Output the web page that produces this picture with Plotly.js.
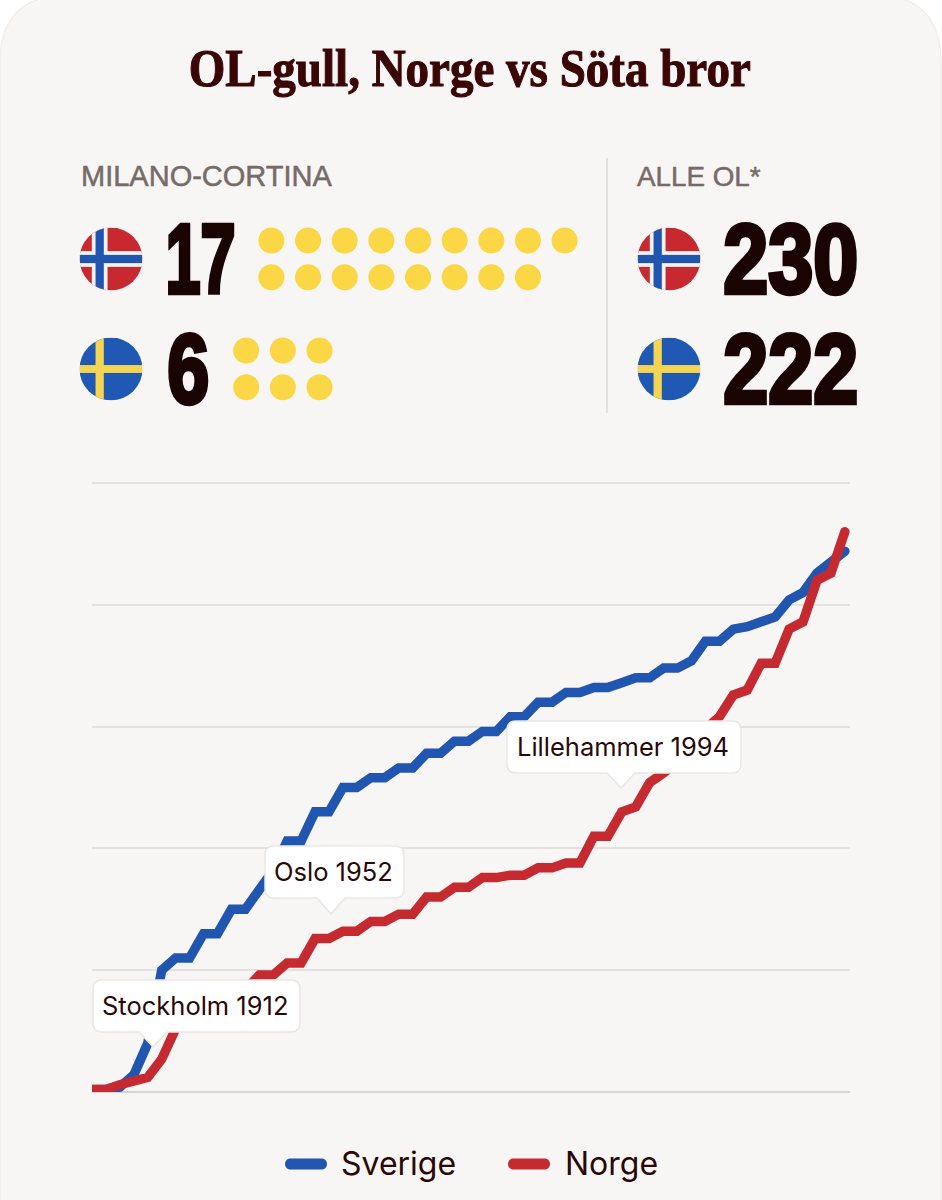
<!DOCTYPE html>
<html><head><meta charset="utf-8">
<script src="https://cdn.plot.ly/plotly-3.0.1.min.js"></script>
<style>html,body{margin:0;padding:0;background:#fff}#c{width:942px;height:1200px}</style>
</head><body><div id="c"></div>
<script>
const games = ['1896','1900','1904','1908','1912','1920','1924 V','1924 S','1928 V','1928 S','1932 V','1932 S','1936 V','1936 S','1948 V','1948 S','1952 V','1952 S','1956 V','1956 S','1960 V','1960 S','1964 V','1964 S','1968 V','1968 S','1972 V','1972 S','1976 V','1976 S','1980 V','1980 S','1984 V','1984 S','1988 V','1988 S','1992 V','1992 S','1994','1996','1998','2000','2002','2004','2006','2008','2010','2012','2014','2016','2018','2021','2022','2024','2026'];
const sverige = [1,1,2,7,20,50,55,55,65,65,75,75,83,91,103,103,115,115,125,125,129,129,133,133,139,139,144,144,148,148,154,154,160,160,164,164,166,166,168,170,170,174,174,177,185,185,190,191,193,195,202,205,213,217,222];
const norge = [1,1,3,4.5,6,13.5,26,33,36,36,42,42,48,48,53,53,63,63,66,66,70,70,73,73,80,80,84,84,88,88,89,89,92,92,94,94,105,105,115,117,127,131,136,140,149,154,163,165,176,176,190,193,210,213,230];
const seriesNames = ['Sverige','Norge'];
const seriesColors = ['#2055b0','#c62a31'];
const milanoGold = {Norge:17, Sverige:6};
const totalGold = {Norge:230, Sverige:222};
const callouts = [['Stockholm 1912',93,300,980,1032,153,1047],['Oslo 1952',265,404,846,898,331,914],['Lillehammer 1994',507,741,721,773,621,788]];

const ink='#2a0808', W=942, H=1200;
// medal dots
const mx=[],my=[];
function dots(n,cols,x0,y0){for(let i=0;i<n;i++){mx.push(x0+(i%cols)*36.65);my.push(y0+Math.floor(i/cols)*36.7);}}
dots(milanoGold.Norge,9,271.4,240.5);
dots(milanoGold.Sverige,3,246.2,350.5);

const xs=games.map((g,i)=>i);
const line=(name,y,c)=>({type:'scatter',mode:'lines',name,x:xs,y,text:games,line:{color:c,width:9.5,shape:'linear'},xaxis:'x2',yaxis:'y2',hoverinfo:'skip'});
const traces=[
 {type:'scatter',mode:'markers',x:mx,y:my,xaxis:'x',yaxis:'y',marker:{color:'#fbd645',size:26,line:{width:0}},hoverinfo:'skip'},
 line(seriesNames[0],sverige,seriesColors[0]),line(seriesNames[1],norge,seriesColors[1])];

const shapes=[];
const P=(path,fill,lc,lw,layer)=>shapes.push({type:'path',path,xref:'x',yref:'y',fillcolor:fill,line:{color:lc||'rgba(0,0,0,0)',width:lw||0},layer:layer||'above'});
// card
P('M0,1210 L0,62 C0,20 22,-4 62,-4 L880,-4 C920,-4 941,20 941,62 L941,1210 Z','#f8f6f5','#f0eeed',1.5,'below');
// divider
shapes.push({type:'line',xref:'x',yref:'y',x0:607,x1:607,y0:158,y1:413,line:{color:'#e3e1df',width:2},layer:'below'});
// callouts
function rr(x0,x1,y0,y1,tx,ty){const r=9,w=14;return `M${x0+r},${y0} L${x1-r},${y0} Q${x1},${y0} ${x1},${y0+r} L${x1},${y1-r} Q${x1},${y1} ${x1-r},${y1} L${tx+w},${y1} L${tx},${ty} L${tx-w},${y1} L${x0+r},${y1} Q${x0},${y1} ${x0},${y1-r} L${x0},${y0+r} Q${x0},${y0} ${x0+r},${y0} Z`;}
callouts.forEach(c=>P(rr(c[1],c[2],c[3],c[4],c[5],c[6]),'#ffffff','#e9e7e5',1.5));
// legend keys
function pill(x0,x1,y,c){const r=5.5;P(`M${x0+r},${y-r} L${x1-r},${y-r} C${x1+1.8},${y-r} ${x1+1.8},${y+r} ${x1-r},${y+r} L${x0+r},${y+r} C${x0-1.8},${y+r} ${x0-1.8},${y-r} ${x0+r},${y-r} Z`,c);}
pill(285,327,1164,seriesColors[0]);
pill(508,550,1164,seriesColors[1]);

const ann=[];
const A=(text,x,y,size,color,family,extra)=>ann.push(Object.assign({text:String(text),x,y,xref:'x',yref:'y',xanchor:'center',yanchor:'middle',showarrow:false,font:{size,color,family}},extra||{}));
const SANS='"Liberation Sans", Arial, sans-serif', INTER='Inter, sans-serif', SERIF='"Liberation Serif", serif';
A('<b>OL-gull, Norge vs Söta bror</b>',470,68,53,'#3a0505',SERIF);
A('MILANO-CORTINA',206.5,176,29,'#756b69',SANS);
A('ALLE OL*',699,176,27.8,'#756b69',SANS);
A('<b>'+milanoGold.Norge+'</b>',200,258.5,98,'#1a0303',SANS);
A('<b>'+milanoGold.Sverige+'</b>',188,369,98,'#1a0303',SANS);
A('<b>'+totalGold.Norge+'</b>',791,258.5,98,'#1a0303',SANS);
A('<b>'+totalGold.Sverige+'</b>',791,369,98,'#1a0303',SANS);
callouts.forEach(c=>A(c[0],(c[1]+c[2])/2-1.5,(c[3]+c[4])/2-0.5,25.5,ink,INTER));
A(seriesNames[0],398,1163,32,ink,INTER);
A(seriesNames[1],611,1163,32,ink,INTER);

function svgUri(s){return 'data:image/svg+xml;utf8,'+encodeURIComponent(s);}
const wrap=b=>`<svg xmlns="http://www.w3.org/2000/svg" width="128" height="128" viewBox="-32 -32 64 64"><defs><clipPath id="k"><circle r="32"/></clipPath></defs><g clip-path="url(#k)">${b}</g></svg>`;
const no=wrap('<rect x="-32" y="-32" width="64" height="64" fill="#c8282f"/><rect x="-19.5" y="-32" width="16" height="64" fill="#f6f2f2"/><rect x="-32" y="-8" width="64" height="16" fill="#f6f2f2"/><rect x="-15.7" y="-32" width="8.4" height="64" fill="#2055b0"/><rect x="-32" y="-4.2" width="64" height="8.4" fill="#2055b0"/>');
const se=wrap('<rect x="-32" y="-32" width="64" height="64" fill="#2059b4"/><rect x="-15.7" y="-32" width="8.4" height="64" fill="#f3d551"/><rect x="-32" y="-4" width="64" height="8" fill="#f3d551"/>');
const img=(s,cx,cy)=>({source:svgUri(s),xref:'paper',yref:'paper',x:cx/W,y:1-cy/H,sizex:63/W,sizey:63/H,xanchor:'center',yanchor:'middle',sizing:'contain',layer:'above'});
const images=[img(no,111,259),img(se,111,369),img(no,669,259),img(se,669,369)];

const layout={width:W,height:H,margin:{l:0,r:0,t:0,b:0},paper_bgcolor:'#ffffff',plot_bgcolor:'rgba(0,0,0,0)',showlegend:false,
 xaxis:{domain:[0,1],range:[0,W],visible:false,anchor:'y',fixedrange:true},
 yaxis:{domain:[0,1],range:[H,0],visible:false,anchor:'x',fixedrange:true},
 xaxis2:{domain:[92/W,850/W],range:[0,54.37],showgrid:false,zeroline:false,showticklabels:false,ticks:'',anchor:'y2',fixedrange:true},
 yaxis2:{domain:[(H-1092)/H,(H-481)/H],range:[0,250.8],tickvals:[50,100,150,200,250],showgrid:true,gridcolor:'#e4e2e0',gridwidth:2,zeroline:true,zerolinecolor:'#d6d4d2',zerolinewidth:2.5,showticklabels:false,ticks:'',anchor:'x2',fixedrange:true},
 shapes,annotations:ann,images};

Plotly.newPlot('c',traces,layout,{staticPlot:true,displayModeBar:false}).then(gd=>{
  // narrow heavy display lettering: the installed fonts have no condensed black cut
  const fit={'OL-gull, Norge vs Söta bror':[562,1.1],'17':[70,4.5],'6':[42,4.5],'230':[135,4.5],'222':[135,4.5],'MILANO-CORTINA':[0,0.5],'ALLE OL*':[0,0.5]};
  gd.querySelectorAll('.annotation-text').forEach(t=>{
    const f=fit[t.textContent];
    if(!f) return;
    if(f[0]){t.setAttribute('textLength',f[0]);t.setAttribute('lengthAdjust','spacingAndGlyphs');}
    t.style.stroke=t.style.fill;
    t.style.strokeWidth=f[1]+'px';
  });
  gd.querySelectorAll('.js-line').forEach(l=>{l.style.strokeLinecap='round';});
});
</script></body></html>
